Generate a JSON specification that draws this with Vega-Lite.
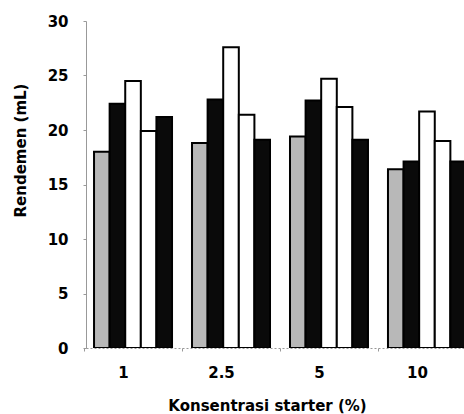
{
  "$schema": "https://vega.github.io/schema/vega-lite/v6.json",
  "width": 378,
  "height": 327,
  "autosize": "none",
  "padding": {"left": 86, "top": 21, "right": 0, "bottom": 66},
  "background": "white",
  "data": {
    "values": [
      {"konsentrasi": "1", "seri": "A", "rendemen": 18.0},
      {"konsentrasi": "1", "seri": "B", "rendemen": 22.4},
      {"konsentrasi": "1", "seri": "C", "rendemen": 24.5},
      {"konsentrasi": "1", "seri": "D", "rendemen": 19.9},
      {"konsentrasi": "1", "seri": "E", "rendemen": 21.2},
      {"konsentrasi": "2.5", "seri": "A", "rendemen": 18.8},
      {"konsentrasi": "2.5", "seri": "B", "rendemen": 22.8},
      {"konsentrasi": "2.5", "seri": "C", "rendemen": 27.6},
      {"konsentrasi": "2.5", "seri": "D", "rendemen": 21.4},
      {"konsentrasi": "2.5", "seri": "E", "rendemen": 19.1},
      {"konsentrasi": "5", "seri": "A", "rendemen": 19.4},
      {"konsentrasi": "5", "seri": "B", "rendemen": 22.7},
      {"konsentrasi": "5", "seri": "C", "rendemen": 24.7},
      {"konsentrasi": "5", "seri": "D", "rendemen": 22.1},
      {"konsentrasi": "5", "seri": "E", "rendemen": 19.1},
      {"konsentrasi": "10", "seri": "A", "rendemen": 16.4},
      {"konsentrasi": "10", "seri": "B", "rendemen": 17.1},
      {"konsentrasi": "10", "seri": "C", "rendemen": 21.7},
      {"konsentrasi": "10", "seri": "D", "rendemen": 19.0},
      {"konsentrasi": "10", "seri": "E", "rendemen": 17.1}
    ]
  },
  "mark": {"type": "bar", "stroke": "black", "strokeWidth": 2, "clip": true},
  "encoding": {
    "x": {
      "field": "konsentrasi",
      "type": "nominal",
      "sort": ["1", "2.5", "5", "10"],
      "scale": {"range": [0, 388], "paddingInner": 0.204, "paddingOuter": 0.082},
      "axis": {
        "title": "Konsentrasi starter (%)",
        "titleFont": "DejaVu Sans",
        "titleFontWeight": "bold",
        "titleFontSize": 15,
        "titleColor": "black",
        "titleX": 181,
        "titleY": 57,
        "titleAlign": "center",
        "titleBaseline": "middle",
        "labelAngle": 0,
        "labelFont": "DejaVu Sans",
        "labelFontWeight": "bold",
        "labelFontSize": 15,
        "labelColor": "black",
        "labelPadding": 14,
        "tickOffset": -49,
        "labelOffset": 39,
        "tickSize": 3,
        "tickColor": "#999",
        "domainColor": "#999",
        "domainDash": [2, 2],
        "domainWidth": 1
      }
    },
    "xOffset": {
      "field": "seri",
      "type": "nominal",
      "sort": ["A", "B", "C", "D", "E"],
      "scale": {"paddingInner": 0, "paddingOuter": 0}
    },
    "y": {
      "field": "rendemen",
      "type": "quantitative",
      "scale": {"domain": [0, 30], "nice": false},
      "axis": {
        "values": [0, 5, 10, 15, 20, 25, 30],
        "grid": false,
        "title": "Rendemen (mL)",
        "titleFont": "DejaVu Sans",
        "titleFontWeight": "bold",
        "titleFontSize": 15,
        "titleColor": "black",
        "titleX": -66,
        "titleY": 129,
        "titleAngle": 270,
        "titleAlign": "center",
        "titleBaseline": "middle",
        "labelFont": "DejaVu Sans",
        "labelFontWeight": "bold",
        "labelFontSize": 15,
        "labelColor": "black",
        "labelPadding": 15,
        "tickSize": 3,
        "tickColor": "#999",
        "domainColor": "#999",
        "domainWidth": 1
      }
    },
    "fill": {
      "field": "seri",
      "type": "nominal",
      "scale": {"domain": ["A", "B", "C", "D", "E"], "range": ["#b8b8b8", "#0a0a0a", "#ffffff", "#ffffff", "#0a0a0a"]},
      "legend": null
    }
  },
  "config": {"view": {"stroke": null}}
}
